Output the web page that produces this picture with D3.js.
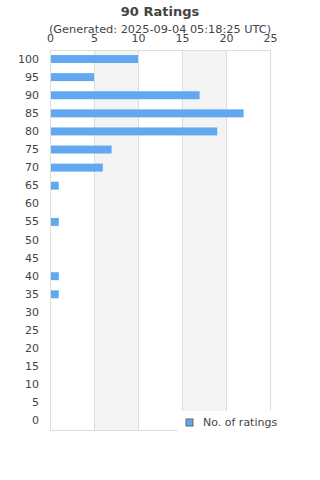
<!DOCTYPE html>
<html>
<head>
<meta charset="utf-8">
<script src="https://cdn.jsdelivr.net/npm/d3@7"></script>
<style>
  body { margin: 0; background: #fff; }
  text { font-family: "DejaVu Sans", sans-serif; fill: #444; }
</style>
</head>
<body>
<div id="main"></div>
<script>
// ratings buckets, top to bottom
let categories = ["100", "95", "90", "85", "80", "75", "70", "65", "60", "55", "50",
	"45", "40", "35", "30", "25", "20", "15", "10", "5", "0"];
let counts = [10, 5, 17, 22, 19, 7, 6, 1, 0, 1, 0, 0, 1, 1, 0, 0, 0, 0, 0, 0, 0];
let xTicks = [0, 5, 10, 15, 20, 25];
let seriesName = "No. of ratings";
let title = "90 Ratings";
let subtitle = "(Generated: 2025-09-04 05:18:25 UTC)";

let width = 320, height = 480;
let margin = { top: 50, right: 50, bottom: 50, left: 50 };
let w = width - margin.left - margin.right,
	h = height - margin.top - margin.bottom;

let svg = d3.select("#main").append("svg")
	.attr("width", width)
	.attr("height", height);

svg.append("text")
	.attr("x", 160).attr("y", 16)
	.attr("text-anchor", "middle")
	.style("font-size", "13px").style("font-weight", "bold")
	.text(title);

svg.append("text")
	.attr("x", 160).attr("y", 33)
	.attr("text-anchor", "middle")
	.style("font-size", "11.3px")
	.text(subtitle);

let g = svg.append("g")
	.attr("transform", "translate(" + margin.left + "," + margin.top + ")");

let x = d3.scaleLinear().domain([0, 25]).range([0, w]);
let y = d3.scaleBand().domain(categories).range([0, h]).paddingInner(0.56).paddingOuter(0.28);

// alternating bands
for (let i = 0; i < xTicks.length - 1; i++) {
	if (i % 2 === 1) {
		g.append("rect")
			.attr("x", x(xTicks[i])).attr("y", 0)
			.attr("width", x(xTicks[i + 1]) - x(xTicks[i]))
			.attr("height", h)
			.attr("fill", "#f3f3f3");
	}
}

g.selectAll(".grid")
	.data(xTicks)
	.enter().append("line")
	.attr("x1", d => x(d) + 0.5).attr("x2", d => x(d) + 0.5)
	.attr("y1", 0).attr("y2", h)
	.attr("stroke", "#ddd");

g.append("line")
	.attr("x1", 0).attr("x2", w)
	.attr("y1", h + 0.5).attr("y2", h + 0.5)
	.attr("stroke", "#ddd");
g.append("line")
	.attr("x1", 0).attr("x2", w)
	.attr("y1", 0.5).attr("y2", 0.5)
	.attr("stroke", "#ddd");

g.selectAll(".bar")
	.data(counts)
	.enter().append("rect")
	.attr("x", 1)
	.attr("y", (d, i) => y(categories[i]))
	.attr("width", d => Math.max(0, x(d) - 1))
	.attr("height", y.bandwidth())
	.attr("fill", "#62a8f0");

let xAxis = g.append("g")
	.call(d3.axisTop(x).tickValues(xTicks).tickSize(0).tickPadding(8));
xAxis.select(".domain").remove();
xAxis.selectAll("text").style("font-size", "11px").attr("fill", "#444");

let yAxis = g.append("g")
	.call(d3.axisLeft(y).tickSize(0).tickPadding(11));
yAxis.select(".domain").remove();
yAxis.selectAll("text").style("font-size", "11px").attr("fill", "#444");

// legend
let lg = svg.append("g").attr("transform", "translate(178,411)");
lg.append("rect").attr("width", 142).attr("height", 28).attr("fill", "#fff");
lg.append("rect").attr("x", 8).attr("y", 8).attr("width", 7).attr("height", 7)
	.attr("fill", "#62a8f0").attr("stroke", "#666").attr("stroke-width", 1);
lg.append("text").attr("x", 25).attr("y", 15)
	.style("font-size", "11px")
	.text(seriesName);
</script>
</body>
</html>
